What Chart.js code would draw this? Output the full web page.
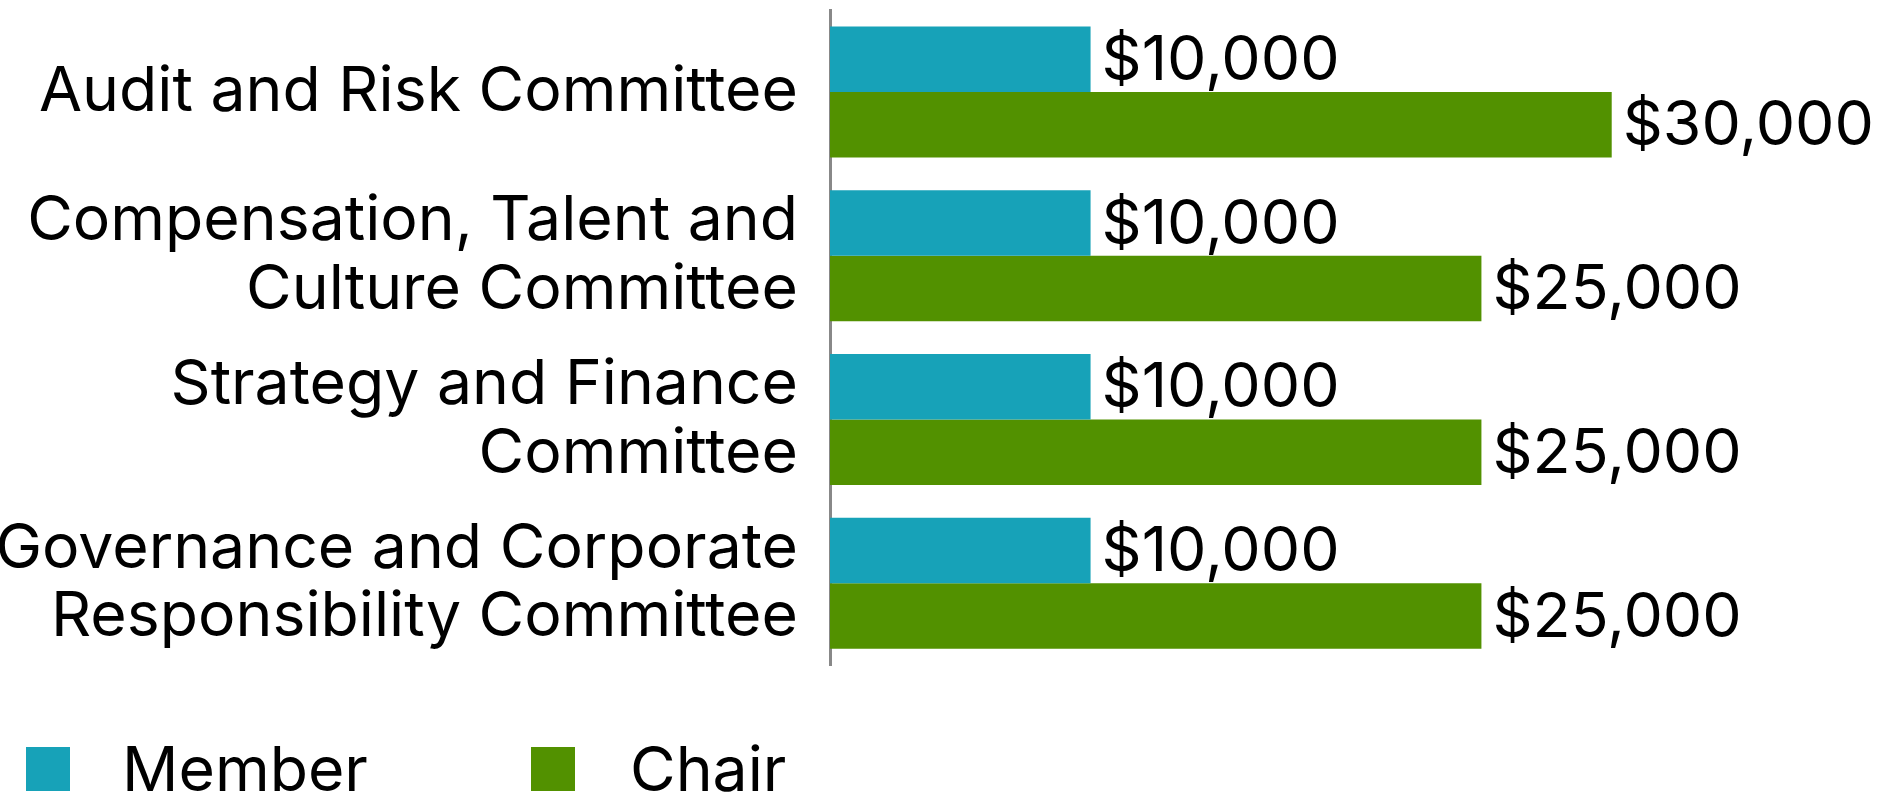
<!DOCTYPE html>
<html>
<head>
<meta charset="utf-8">
<script src="https://cdn.jsdelivr.net/npm/chart.js@4.4.1/dist/chart.umd.min.js"></script>
<style>
  html, body { margin: 0; padding: 0; background: #fff; }
  #wrap { position: relative; width: 1878px; height: 803px; }
  .lg-box { position: absolute; top: 747px; width: 44px; height: 44px; }
  .lg-text { position: absolute; top: 737px; font: 62.5px Inter, sans-serif; line-height: 1; color: #000; white-space: nowrap; }
</style>
</head>
<body>
<div id="wrap">
  <canvas id="feeChart"></canvas>
  <div class="lg-box" style="left:26px;background:#17A2B8"></div>
  <div class="lg-text" style="left:122px">Member</div>
  <div class="lg-box" style="left:531px;background:#529100"></div>
  <div class="lg-text" style="left:630px">Chair</div>
</div>
<script>
const categories = [
    'Audit and Risk Committee',
    ['Compensation, Talent and', 'Culture Committee'],
    ['Strategy and Finance', 'Committee'],
    ['Governance and Corporate', 'Responsibility Committee'],
];
const seriesNames = ['Member', 'Chair'];
const memberFees = [10000, 10000, 10000, 10000];
const chairFees = [30000, 25000, 25000, 25000];

const money = (v) => '$' + v.toLocaleString('en-US');

// draw the value next to the end of each bar
const barValueLabels = {
    id: 'barValueLabels',
    afterDatasetsDraw(chart) {
        const ctx = chart.ctx;
        ctx.save();
        ctx.font = '62.5px Inter, sans-serif';
        ctx.fillStyle = '#000';
        ctx.textAlign = 'left';
        ctx.textBaseline = 'middle';
        chart.data.datasets.forEach((ds, i) => {
            chart.getDatasetMeta(i).data.forEach((bar, j) => {
                ctx.fillText(money(ds.data[j]), bar.x + 11, bar.y + 2);
            });
        });
        ctx.restore();
    },
};

const ctx = document.getElementById('feeChart').getContext('2d');
new Chart(ctx, {
    type: 'bar',
    data: {
        labels: categories,
        datasets: [
            {label: seriesNames[0], data: memberFees, backgroundColor: '#17A2B8'},
            {label: seriesNames[1], data: chairFees, backgroundColor: '#529100'},
        ],
    },
    options: {
        indexAxis: 'y',
        responsive: true,
        maintainAspectRatio: false,
        animation: false,
        barPercentage: 1,
        categoryPercentage: 0.8,
        layout: {padding: {top: 10, bottom: 138, right: 136, left: 0}},
        plugins: {
            legend: {display: false},
            tooltip: {enabled: false},
        },
        scales: {
            x: {
                display: false,
                min: 0,
                max: 35000,
            },
            y: {
                grid: {display: false, drawTicks: false},
                border: {display: true, color: '#888', width: 3},
                ticks: {
                    color: '#000',
                    padding: 32,
                    font: {family: 'Inter', size: 62.5, lineHeight: 1.1},
                },
                afterFit: (scale) => {
                    scale.width = 830;
                    scale.paddingTop = 0;
                    scale.paddingBottom = 0;
                },
            },
        },
    },
    plugins: [barValueLabels],
});
</script>
</body>
</html>
